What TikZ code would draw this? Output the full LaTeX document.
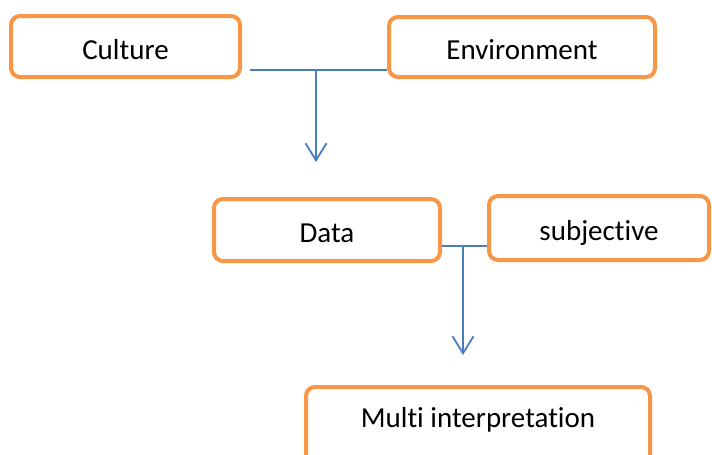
\documentclass[tikz,border=0pt]{standalone}
\usepackage{fontspec}
\setmainfont[Ligatures=NoCommon]{Carlito}
\usetikzlibrary{arrows.meta, positioning}
\definecolor{boxorange}{HTML}{F79646}
\definecolor{linkblue}{HTML}{4A7EBB}

\begin{document}
\begin{tikzpicture}[x=1pt,y=-1pt,
  txt/.style={font=\fontsize{29}{34}\selectfont, text height=25pt, text depth=0pt},
  box/.style={txt, draw=boxorange, line width=4pt, rounded corners=9pt, fill=white},
  link/.style={draw=linkblue, line width=1.8pt},
  arr/.style={link, -{Straight Barb[length=17pt,width=21pt,line width=1.8pt]}}]
\useasboundingbox (0,0) rectangle (712,455);
% first row
\node[box, minimum width=229pt, minimum height=61pt] (culture) at (125.5,46.5) {Culture};
\node[box, minimum width=266pt, minimum height=60pt] (env) at (522,47) {Environment};
% second row
\node[box, minimum width=226pt, minimum height=62pt] (data) at (327,230) {Data};
\node[box, minimum width=220pt, minimum height=64pt] (subj) at (599,228) {subjective};
% last box runs past the bottom edge
\node[box, minimum width=344pt, minimum height=90pt, anchor=north] (multi) at (478,385) {};
\node[txt] (multitext) at (478,415) {Multi interpretation};
% joins
\coordinate (j1) at (316,70);
\coordinate (a1) at (316,162);
\draw[link] ([xshift=8pt]culture.east |- j1) -- (env.west |- j1);
\draw[arr] (j1) -- (a1);
\coordinate (j2) at (463,246);
\coordinate (a2) at (463,355);
\draw[link] (data.east |- j2) -- (subj.west |- j2);
\draw[arr] (j2) -- (a2);
\end{tikzpicture}
\end{document}
